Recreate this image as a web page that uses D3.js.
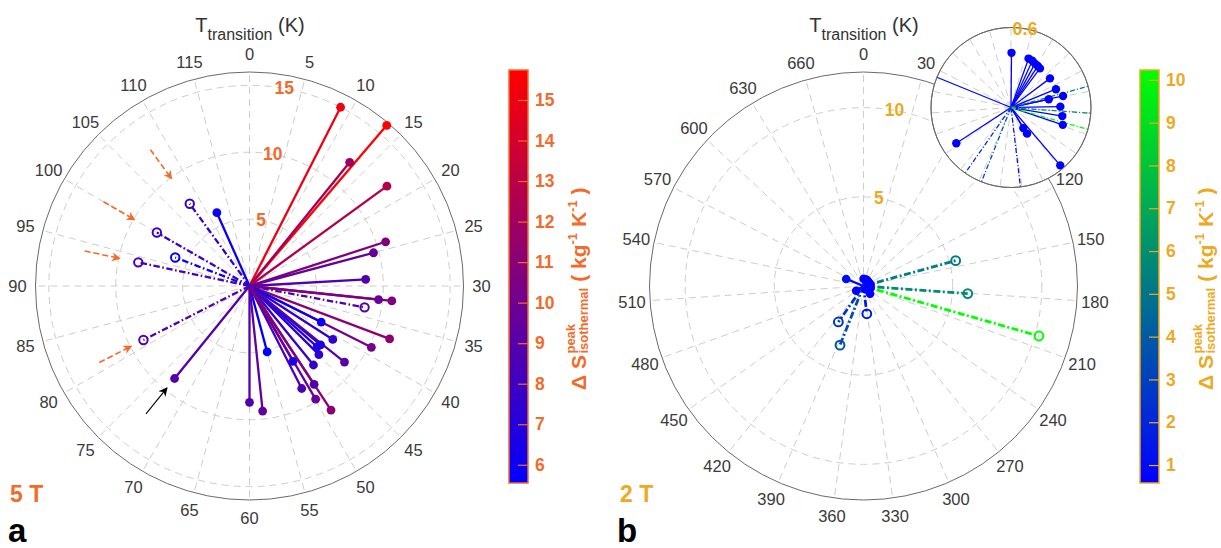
<!DOCTYPE html>
<html>
<head>
<meta charset="utf-8">
<script src="https://cdn.jsdelivr.net/npm/d3@7"></script>
<style>
body { margin: 0; background: #fff; }
svg { font-family: "Liberation Sans", Arial, Helvetica, sans-serif; }
</style>
</head>
<body>
<svg id="fig" width="1221" height="548"></svg>
<script>
// ---- panel a (5 T): transition temperature (K) and peak isothermal entropy change
const aSolidT = [9.0, 13.5, 13.0, 18.0, 24.0, 25.0, 28.9, 32.0, 32.0, 36.9, 38.9, 38.9, 40.9, 43.2, 44.0, 44.9, 42.9, 47.0, 50.0, 55.0, 48.9, 51.0, 49.9, 48.9, 60.0, 58.0, 73.0, 112.0];
const aSolidS = [15.0, 15.8, 11.9, 12.7, 10.7, 9.6, 8.7, 9.7, 10.7, 11.2, 10.2, 6.0, 7.4, 6.9, 6.8, 7.3, 9.1, 7.6, 6.5, 5.1, 8.8, 8.6, 9.8, 11.1, 8.7, 9.4, 8.9, 6.0];
const aDashT = [33.5, 81.0, 94.0, 97.0, 100.0, 108.0];
const aDashS = [8.75, 8.9, 8.5, 5.95, 8.0, 7.6];
const aArrowT = [108, 100, 94, 81];   // orange arrows
const aBlackArrowT = [73];
const aThetaTicks = d3.range(0, 120, 5);
const aRTicks = [5, 10, 15];
const aBarTicks = [6, 7, 8, 9, 10, 11, 12, 13, 14, 15];

// ---- panel b (2 T)
const bSolidT = [1, 38, 47, 55, 63, 70, 102, 130, 148.5, 149, 170.6, 190.7, 208, 286, 284.5, 267.6, 454, 560];
const bSolidS = [0.41, 0.39, 0.385, 0.375, 0.37, 0.365, 0.365, 0.364, 0.40, 0.29, 0.37, 0.39, 0.41, 0.18, 0.23, 0.57, 0.49, 1.05];
const bDashT = [143, 180.5, 203, 412, 386.5, 332];
const bDashS = [5.36, 5.86, 10.23, 2.46, 3.57, 1.57];
const bThetaTicks = d3.range(0, 690, 30);
const bRTicks = [5, 10];
const bBarTicks = [1, 2, 3, 4, 5, 6, 7, 8, 9, 10];

const orange = '#f26b2b';
const gold = '#eda922';
const gridCol = '#cdcdcd';
const svg = d3.select('#fig');

function polar(cx, cy, period, rmax, radius) {
	const ang = d3.scaleLinear().domain([0, period]).range([0, 2 * Math.PI]);
	const rad = d3.scaleLinear().domain([0, rmax]).range([0, radius]);
	const pt = (t, r) => [cx + rad(r) * Math.sin(ang(t)), cy - rad(r) * Math.cos(ang(t))];
	return { cx, cy, period, rmax, radius, ang, rad, pt };
}

function drawGrid(g, p, thetaTicks, rTicks, labels) {
	g.append('circle').attr('cx', p.cx).attr('cy', p.cy).attr('r', p.radius)
		.attr('fill', '#fff').attr('stroke', '#6a6a6a').attr('stroke-width', 1);
	g.selectAll('line.spoke').data(thetaTicks).enter().append('line')
		.attr('x1', p.cx).attr('y1', p.cy)
		.attr('x2', (d) => p.pt(d, p.rmax)[0]).attr('y2', (d) => p.pt(d, p.rmax)[1])
		.attr('stroke', gridCol).attr('stroke-width', 1).attr('stroke-dasharray', '7,5');
	g.selectAll('circle.ring').data(rTicks).enter().append('circle')
		.attr('cx', p.cx).attr('cy', p.cy).attr('r', (d) => p.rad(d))
		.attr('fill', 'none').attr('stroke', gridCol).attr('stroke-width', 1).attr('stroke-dasharray', '7,5');
	if (labels) {
		g.selectAll('text.theta').data(thetaTicks).enter().append('text')
			.attr('x', (d) => p.cx + (p.radius + 18) * Math.sin(p.ang(d)))
			.attr('y', (d) => p.cy - (p.radius + 18) * Math.cos(p.ang(d)))
			.attr('text-anchor', 'middle').attr('dominant-baseline', 'central')
			.attr('font-size', 16.5).attr('fill', '#3a3a3a')
			.text((d) => d);
	}
}

function rLabels(g, p, ticks, color, size) {
	const a = 10 / 360 * p.period;
	g.selectAll('text.rl').data(ticks).enter().append('text')
		.attr('x', (d) => p.pt(a, d)[0]).attr('y', (d) => p.pt(a, d)[1])
		.attr('text-anchor', 'middle').attr('dominant-baseline', 'central')
		.attr('font-size', size).attr('font-weight', 'bold').attr('fill', color)
		.text((d) => d);
}

function drawData(g, p, T, S, color, dashed, lw, dash) {
	const d = T.map((t, i) => ({ t, s: S[i] }));
	g.selectAll(null).data(d).enter().append('line')
		.attr('x1', p.cx).attr('y1', p.cy)
		.attr('x2', (e) => p.pt(e.t, e.s)[0]).attr('y2', (e) => p.pt(e.t, e.s)[1])
		.attr('stroke', (e) => color(e.s)).attr('stroke-width', lw)
		.attr('stroke-dasharray', dashed ? dash : null);
	return d;
}

function drawMarks(g, p, d, color, open, mr) {
	g.selectAll(null).data(d).enter().append('circle')
		.attr('cx', (e) => p.pt(e.t, e.s)[0]).attr('cy', (e) => p.pt(e.t, e.s)[1])
		.attr('r', mr)
		.attr('fill', open ? 'none' : (e) => color(e.s))
		.attr('stroke', (e) => color(e.s)).attr('stroke-width', open ? 2 : 0);
}

function title(cx) {
	const t = svg.append('text').attr('x', cx).attr('y', 32).attr('text-anchor', 'middle')
		.attr('fill', '#333').attr('font-size', 20);
	t.append('tspan').text('T');
	t.append('tspan').attr('font-size', 16).attr('dy', 8).text('transition');
	t.append('tspan').attr('dy', -8).text(' (K)');
}

function colorbar(x, color, domain, ticks, tcol, titleX) {
	const id = 'grad' + x;
	const grad = svg.append('defs').append('linearGradient').attr('id', id)
		.attr('x1', 0).attr('y1', 1).attr('x2', 0).attr('y2', 0);
	grad.append('stop').attr('offset', '0%').attr('stop-color', color(domain[0]));
	grad.append('stop').attr('offset', '100%').attr('stop-color', color(domain[1]));
	const y = d3.scaleLinear().domain(domain).range([483, 70]);
	svg.append('rect').attr('x', x).attr('y', 70).attr('width', 19).attr('height', 413)
		.attr('fill', `url(#${id})`).attr('stroke', tcol).attr('stroke-width', 1.5);
	const ax = svg.append('g').attr('transform', `translate(${x + 19},0)`)
		.call(d3.axisRight(y).tickValues(ticks).tickSizeInner(-10).tickSizeOuter(0).tickPadding(7));
	ax.select('.domain').remove();
	ax.selectAll('line').attr('stroke', tcol).attr('stroke-width', 1.2);
	ax.selectAll('text').attr('fill', tcol).attr('font-size', 17.5).attr('font-weight', 'bold')
		.attr('font-family', '"Liberation Sans", Arial, sans-serif');

	// rotated title  Δ S^peak_isothermal ( kg^-1 K^-1 )
	const g = svg.append('g').attr('transform', `translate(${titleX},390) rotate(-90)`)
		.attr('fill', tcol).attr('font-weight', 'bold');
	const t1 = g.append('text').attr('font-size', 21).text('Δ S');
	let w = t1.node().getComputedTextLength() + 1.5;
	const sup = g.append('text').attr('x', w).attr('y', -11).attr('font-size', 13).text('peak');
	const sub = g.append('text').attr('x', w).attr('y', 1.5).attr('font-size', 13).text('isothermal');
	w += Math.max(sup.node().getComputedTextLength(), sub.node().getComputedTextLength()) + 6;
	const parts = [['( kg', 0], ['-1', 1], [' K', 0], ['-1', 1], [' )', 0]];
	parts.forEach(([s, up]) => {
		const t = g.append('text').attr('x', w).attr('y', up ? -9 : 0)
			.attr('font-size', up ? 13 : 21).attr('xml:space', 'preserve').text(s);
		w += t.node().getComputedTextLength();
	});
}

// ============ panel a ============
const pa = polar(249.5, 286, 120, 16, 214);
const colA = d3.scaleLinear().domain([5.55, 15.74]).range(['#0000ff', '#ff0000']).clamp(true);
const ga = svg.append('g');
drawGrid(ga, pa, aThetaTicks, aRTicks, true);
const aS = drawData(ga, pa, aSolidT, aSolidS, colA, false, 2.3);
const aD = drawData(ga, pa, aDashT, aDashS, colA, true, 2.3, '6.5,2.5,1.6,2.5');
drawMarks(ga, pa, aS, colA, false, 4.4);
drawMarks(ga, pa, aD, colA, true, 4.2);
rLabels(ga, pa, aRTicks, orange, 17.5);

const defs = svg.append('defs');
defs.append('marker').attr('id', 'headO').attr('viewBox', '0 0 10 10').attr('refX', 9).attr('refY', 5)
	.attr('markerWidth', 9).attr('markerHeight', 9).attr('markerUnits', 'userSpaceOnUse').attr('orient', 'auto')
	.append('path').attr('d', 'M0,0 L10,5 L0,10 L3,5 Z').attr('fill', orange);
defs.append('marker').attr('id', 'headK').attr('viewBox', '0 0 10 10').attr('refX', 9).attr('refY', 5)
	.attr('markerWidth', 9).attr('markerHeight', 9).attr('markerUnits', 'userSpaceOnUse').attr('orient', 'auto')
	.append('path').attr('d', 'M0,0 L10,5 L0,10 L3,5 Z').attr('fill', '#000');
ga.selectAll(null).data(aArrowT).enter().append('line')
	.attr('x1', (d) => pa.pt(d, 12.6)[0]).attr('y1', (d) => pa.pt(d, 12.6)[1])
	.attr('x2', (d) => pa.pt(d, 9.9)[0]).attr('y2', (d) => pa.pt(d, 9.9)[1])
	.attr('stroke', orange).attr('stroke-width', 1.6).attr('stroke-dasharray', '6,3')
	.attr('marker-end', 'url(#headO)');
ga.selectAll(null).data(aBlackArrowT).enter().append('line')
	.attr('x1', (d) => pa.pt(d, 12.3)[0]).attr('y1', (d) => pa.pt(d, 12.3)[1])
	.attr('x2', (d) => pa.pt(d, 9.8)[0]).attr('y2', (d) => pa.pt(d, 9.8)[1])
	.attr('stroke', '#000').attr('stroke-width', 1.1).attr('marker-end', 'url(#headK)');

title(250);
svg.append('text').attr('x', 10).attr('y', 502).attr('font-size', 23).attr('font-weight', 'bold')
	.attr('fill', orange).text('5 T');
svg.append('text').attr('x', 8).attr('y', 542).attr('font-size', 33).attr('font-weight', 'bold')
	.attr('fill', '#000').text('a');
colorbar(509, colA, [5.55, 15.74], aBarTicks, orange, 586);

// ============ panel b ============
const pb = polar(863.5, 286, 690, 12, 214);
const colB = d3.scaleLinear().domain([0.58, 10.23]).range(['#0000ff', '#00ff00']).clamp(true);
const gb = svg.append('g');
drawGrid(gb, pb, bThetaTicks, bRTicks, true);
const bS = drawData(gb, pb, bSolidT, bSolidS, colB, false, 2.3);
const bD = drawData(gb, pb, bDashT, bDashS, colB, true, 2.8, '7,2.5,2,2.5');
drawMarks(gb, pb, bS, colB, false, 4.3);
drawMarks(gb, pb, bD, colB, true, 4.4);
rLabels(gb, pb, bRTicks, gold, 17.5);

// inset: zoom on the centre of panel b
const pi = polar(1011, 107.5, 690, 0.6, 80);
svg.append('defs').append('clipPath').attr('id', 'insetClip')
	.append('circle').attr('cx', pi.cx).attr('cy', pi.cy).attr('r', pi.radius);
const gi = svg.append('g');
drawGrid(gi, pi, bThetaTicks, [], false);
const gic = gi.append('g').attr('clip-path', 'url(#insetClip)');
const iS = drawData(gic, pi, bSolidT, bSolidS, colB, false, 1.3);
const iD = drawData(gic, pi, bDashT, bDashS, colB, true, 1.3, '5,2,1.2,2');
drawMarks(gic, pi, iS.filter((e) => e.s <= 0.6), colB, false, 4.2);
gi.append('circle').attr('cx', pi.cx).attr('cy', pi.cy).attr('r', pi.radius)
	.attr('fill', 'none').attr('stroke', '#6a6a6a').attr('stroke-width', 1);
rLabels(gi, pi, [0.6], gold, 18);

title(864);
svg.append('text').attr('x', 620).attr('y', 502).attr('font-size', 23).attr('font-weight', 'bold')
	.attr('fill', gold).text('2 T');
svg.append('text').attr('x', 617).attr('y', 542).attr('font-size', 33).attr('font-weight', 'bold')
	.attr('fill', '#000').text('b');
colorbar(1140, colB, [0.58, 10.23], bBarTicks, gold, 1213);
</script>
</body>
</html>
